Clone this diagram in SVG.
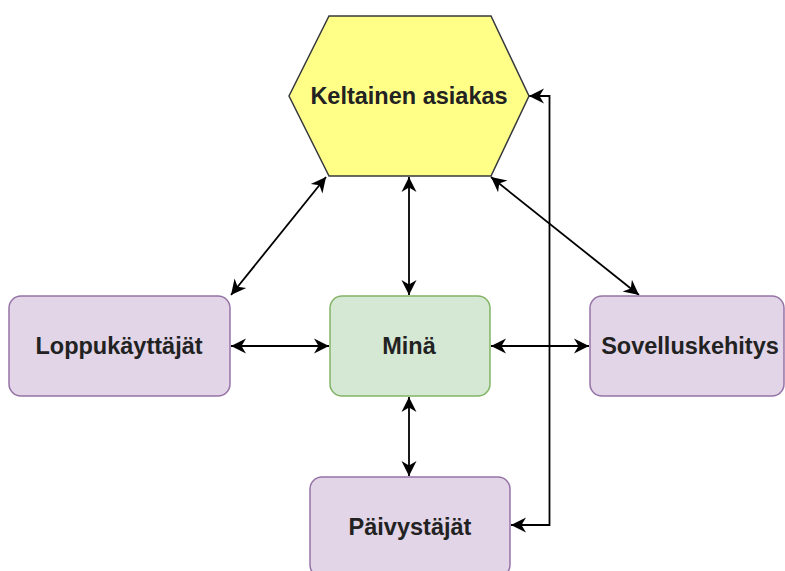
<svg xmlns="http://www.w3.org/2000/svg" width="785" height="571" viewBox="0 0 785 571">
  <style>
    .label { font-family: "Liberation Sans", Arial, sans-serif; font-size: 23.5px; font-weight: bold; fill: #222; text-anchor: middle; }
    .purple { fill: #e1d5e7; stroke: #9673a6; stroke-width: 1.5; }
    .green { fill: #d5e8d4; stroke: #82b366; stroke-width: 1.5; }
    .yellow { fill: #ffff88; stroke: #36393d; stroke-width: 1.5; }
    .edge { fill: none; stroke: #000; stroke-width: 1.8; marker-start: url(#arrow); marker-end: url(#arrow); }
  </style>
  <defs>
    <!-- classic notched arrowhead, tip at the path end -->
    <marker id="arrow" viewBox="-16 -9 17 18" refX="0" refY="0" markerWidth="17" markerHeight="18" markerUnits="userSpaceOnUse" orient="auto-start-reverse">
      <path d="M0,0 L-15,-7.5 L-10.5,0 L-15,7.5 Z" fill="#000"/>
    </marker>
  </defs>
  <rect width="785" height="571" fill="#fff"/>

  <g id="connectors">
    <line class="edge" x1="409" y1="177" x2="409" y2="295"/>
    <line class="edge" x1="326" y1="177" x2="231" y2="295"/>
    <line class="edge" x1="491" y1="177" x2="639" y2="295"/>
    <line class="edge" x1="231" y1="346" x2="329" y2="346"/>
    <line class="edge" x1="491" y1="346" x2="589" y2="346"/>
    <line class="edge" x1="409" y1="397" x2="409" y2="476"/>
    <path class="edge" d="M529,96 H549.5 V525 H511"/>
  </g>

  <g id="keltainen-asiakas">
    <polygon class="yellow" points="329,16 491,16 529,96 491,176 329,176 289,96"/>
    <text class="label" x="409" y="104">Keltainen asiakas</text>
  </g>

  <g id="loppukayttajat">
    <rect class="purple" x="9" y="296" width="221" height="100" rx="12"/>
    <text class="label" x="119" y="354">Loppukäyttäjät</text>
  </g>

  <g id="mina">
    <rect class="green" x="330" y="296" width="160" height="100" rx="12"/>
    <text class="label" x="409" y="354">Minä</text>
  </g>

  <g id="sovelluskehitys">
    <rect class="purple" x="590" y="296" width="194" height="100" rx="12"/>
    <text class="label" x="690" y="354">Sovelluskehitys</text>
  </g>

  <g id="paivystajat">
    <rect class="purple" x="310" y="477" width="200" height="100" rx="12"/>
    <text class="label" x="410" y="535">Päivystäjät</text>
  </g>
</svg>
